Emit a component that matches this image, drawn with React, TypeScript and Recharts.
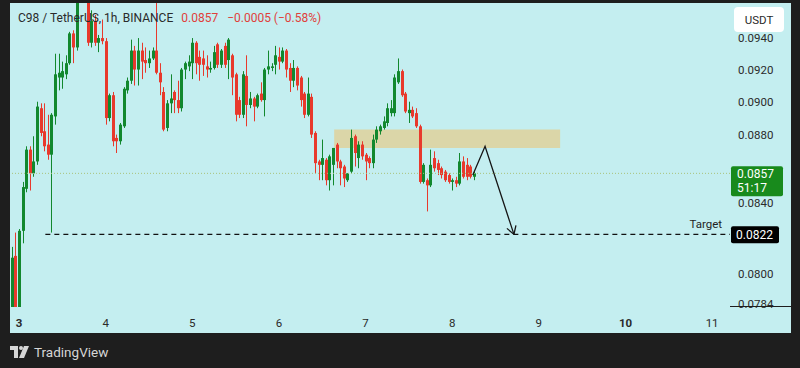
import { Bar, ComposedChart, ReferenceArea, ReferenceLine, Scatter, XAxis, YAxis } from "recharts";

// hour index from day 3 00:00, one candle per hour
const hours = [
  -2, -1, 0, 1, 2, 3, 4, 5, 6, 7, 8, 9, 10, 11, 12, 13, 14, 15, 16, 17, 18, 19, 20, 21, 22, 23,
  24, 25, 26, 27, 28, 29, 30, 31, 32, 33, 34, 35, 36, 37, 38, 39, 40, 41, 42, 43, 44, 45, 46, 47,
  48, 49, 50, 51, 52, 53, 54, 55, 56, 57, 58, 59, 60, 61, 62, 63, 64, 65, 66, 67, 68, 69, 70, 71,
  72, 73, 74, 75, 76, 77, 78, 79, 80, 81, 82, 83, 84, 85, 86, 87, 88, 89, 90, 91, 92, 93, 94, 95,
  96, 97, 98, 99, 100, 101, 102, 103, 104, 105, 106, 107, 108, 109, 110, 111, 112, 113, 114, 115,
  116, 117, 118, 119, 120, 121, 122, 123, 124, 125, 126,
];

const opens = [
  0.0781, 0.081, 0.0782, 0.0824, 0.0848, 0.0871, 0.0857, 0.0864, 0.0896, 0.0882, 0.0874, 0.0868, 0.0891, 0.0915, 0.0915, 0.0917, 0.0924, 0.0943, 0.0934, 0.0968, 0.0975, 0.0971, 0.0937, 0.0951, 0.0937, 0.094,
  0.0938, 0.089, 0.0904, 0.0878, 0.0876, 0.0885, 0.0907, 0.0913, 0.0932, 0.092, 0.0932, 0.0926, 0.0924, 0.0927, 0.0932, 0.0918, 0.0906, 0.0884, 0.0899, 0.0906, 0.0901, 0.0896, 0.092, 0.0922,
  0.0924, 0.0937, 0.0928, 0.0927, 0.0922, 0.092, 0.0921, 0.0936, 0.0923, 0.0935, 0.0926, 0.0929, 0.0917, 0.0901, 0.0892, 0.0916, 0.0898, 0.0902, 0.0897, 0.0905, 0.0901, 0.092, 0.0921, 0.0923,
  0.0928, 0.0925, 0.0932, 0.0921, 0.0913, 0.0921, 0.0915, 0.0905, 0.0892, 0.0903, 0.0881, 0.0864, 0.0862, 0.0865, 0.0853, 0.0862, 0.0874, 0.0864, 0.0861, 0.0853, 0.0858, 0.0879, 0.0866, 0.0874,
  0.0868, 0.0866, 0.0863, 0.0877, 0.0882, 0.0884, 0.0887, 0.0893, 0.0893, 0.0912, 0.0919, 0.0905, 0.0893, 0.0895, 0.0893, 0.0885, 0.0852, 0.0853, 0.085, 0.0866,
  0.0863, 0.086, 0.0858, 0.0856, 0.0852, 0.0853, 0.0851, 0.0864, 0.0862, 0.0861, 0.0855,
];

const highs = [
  0.0815, 0.0823, 0.0825, 0.0852, 0.0873, 0.0873, 0.0879, 0.09, 0.0899, 0.0899, 0.0892, 0.0893, 0.093, 0.093, 0.0925, 0.0929, 0.0944, 0.0945, 0.0972, 0.0982, 0.0986, 0.0976, 0.0958, 0.0955, 0.0942, 0.0952,
  0.094, 0.0905, 0.0906, 0.088, 0.0887, 0.0909, 0.0915, 0.0939, 0.0935, 0.094, 0.0937, 0.0934, 0.0932, 0.0934, 0.0966, 0.0924, 0.0909, 0.0901, 0.0917, 0.0907, 0.0913, 0.0921, 0.0925, 0.0929,
  0.094, 0.0938, 0.0932, 0.0932, 0.0929, 0.0925, 0.0935, 0.0937, 0.0933, 0.0937, 0.094, 0.093, 0.0918, 0.0903, 0.0919, 0.0929, 0.0906, 0.0903, 0.0905, 0.0912, 0.0921, 0.0932, 0.0924, 0.0935,
  0.0934, 0.0934, 0.0933, 0.0924, 0.0926, 0.0922, 0.0916, 0.0906, 0.0915, 0.0905, 0.0882, 0.0865, 0.0877, 0.0866, 0.0868, 0.0872, 0.0875, 0.0865, 0.0862, 0.0857, 0.0883, 0.088, 0.0876, 0.0876,
  0.0869, 0.0867, 0.088, 0.0885, 0.0886, 0.0891, 0.0899, 0.0901, 0.0917, 0.0927, 0.092, 0.0906, 0.09, 0.0897, 0.0896, 0.0886, 0.0863, 0.0854, 0.0871, 0.087,
  0.0865, 0.0861, 0.0859, 0.0857, 0.0854, 0.0855, 0.0869, 0.0867, 0.0866, 0.0862, 0.0858,
];

const lows = [
  0.0778, 0.0778, 0.0779, 0.0817, 0.0846, 0.0847, 0.0855, 0.0862, 0.0879, 0.087, 0.0865, 0.0823, 0.0886, 0.0907, 0.0908, 0.0914, 0.0923, 0.0924, 0.0932, 0.0966, 0.0967, 0.0935, 0.0934, 0.0935, 0.0931, 0.0936,
  0.0886, 0.0888, 0.0873, 0.0869, 0.0874, 0.0884, 0.0905, 0.0911, 0.091, 0.091, 0.0914, 0.0918, 0.0921, 0.0926, 0.0917, 0.0904, 0.0882, 0.0882, 0.0893, 0.0893, 0.0893, 0.0894, 0.0914, 0.0919,
  0.0914, 0.0917, 0.0913, 0.0916, 0.0915, 0.0918, 0.092, 0.0921, 0.0921, 0.0921, 0.0914, 0.0904, 0.0888, 0.089, 0.089, 0.0885, 0.0896, 0.0888, 0.0896, 0.09, 0.0891, 0.0917, 0.0919, 0.0917,
  0.092, 0.0924, 0.0915, 0.0906, 0.0909, 0.0907, 0.0897, 0.089, 0.0891, 0.0878, 0.0857, 0.0853, 0.0853, 0.085, 0.0847, 0.085, 0.086, 0.085, 0.0849, 0.0852, 0.0857, 0.0861, 0.086, 0.0865,
  0.0853, 0.086, 0.086, 0.0875, 0.088, 0.0883, 0.0885, 0.0891, 0.0891, 0.0911, 0.0903, 0.0893, 0.0887, 0.089, 0.0884, 0.0851, 0.0851, 0.0835, 0.0849, 0.0858,
  0.0856, 0.0854, 0.0852, 0.0851, 0.0847, 0.0849, 0.085, 0.0854, 0.0853, 0.0854, 0.0853,
];

const closes = [
  0.0809, 0.0782, 0.0824, 0.0849, 0.0871, 0.0857, 0.0864, 0.0897, 0.0881, 0.0873, 0.0868, 0.0892, 0.0917, 0.0918, 0.0919, 0.0924, 0.0943, 0.0934, 0.0968, 0.0975, 0.0971, 0.0937, 0.0951, 0.0937, 0.094, 0.0938,
  0.089, 0.0904, 0.0876, 0.0876, 0.0886, 0.0908, 0.0913, 0.0932, 0.092, 0.0932, 0.0925, 0.0924, 0.0927, 0.0932, 0.0918, 0.0912, 0.0883, 0.0899, 0.0902, 0.0901, 0.0896, 0.092, 0.0924, 0.0925,
  0.0937, 0.0924, 0.0923, 0.0923, 0.092, 0.0921, 0.0931, 0.0923, 0.0932, 0.0923, 0.0939, 0.0915, 0.0892, 0.0892, 0.0917, 0.0898, 0.0902, 0.0897, 0.0904, 0.0901, 0.092, 0.0922, 0.0922, 0.0929,
  0.0925, 0.0932, 0.092, 0.0913, 0.0921, 0.091, 0.0901, 0.0892, 0.0905, 0.088, 0.0863, 0.0862, 0.0866, 0.0853, 0.0867, 0.0872, 0.0864, 0.086, 0.0854, 0.0857, 0.0878, 0.0869, 0.0874, 0.0867,
  0.0864, 0.0863, 0.0877, 0.0883, 0.0885, 0.0888, 0.0896, 0.0896, 0.0915, 0.0919, 0.0904, 0.0894, 0.0895, 0.0891, 0.0885, 0.0852, 0.0862, 0.085, 0.0862, 0.086,
  0.0859, 0.0856, 0.0853, 0.0852, 0.0853, 0.0851, 0.0864, 0.0855, 0.0855, 0.0855, 0.0857,
];

const dayTicks = [0, 24, 48, 72, 96, 120, 144, 168, 192];
const dayLabels = ["3", "4", "5", "6", "7", "8", "9", "10", "11"];
const boldDays = ["3", "10"];
const priceTicks = [0.0784, 0.08, 0.084, 0.088, 0.09, 0.092, 0.094];

const lastPrice = 0.0857;
const targetPrice = 0.0822;
const zoneLow = 0.0872;
const zoneHigh = 0.0883;
const zoneStart = 87.3;
const zoneEnd = 149.9;
const targetStart = 7.3;

// projected move drawn on the chart
const pathHours = [125.7, 129.1, 137.1];
const pathPrices = [0.0856, 0.0873, 0.0822];

const GREEN = "#12882e";
const RED = "#e8392c";
const BG = "#c4eef0";
const FONT = "Roboto, 'Noto Sans', sans-serif";

const candles = hours.map((t, i) => ({
  t,
  open: opens[i],
  high: highs[i],
  low: lows[i],
  close: closes[i],
  range: [lows[i], highs[i]],
}));

const pathData = pathHours.map((t, i) => ({ t, p: pathPrices[i], head: i === pathHours.length - 1 }));

function Candle(props: any) {
  const { x, y, width, height, payload } = props;
  if (x == null || y == null || !payload) return null;
  const top = Math.min(y, y + height);
  const bottom = Math.max(y, y + height);
  const lh = Math.log(payload.high);
  const span = lh - Math.log(payload.low) || 1;
  const toY = (v: number) => top + ((lh - Math.log(v)) / span) * (bottom - top);
  const up = payload.close >= payload.open;
  const color = up ? GREEN : RED;
  const cx = Math.round(x + width / 2) + 0.5;
  const bTop = toY(Math.max(payload.open, payload.close));
  const bBot = toY(Math.min(payload.open, payload.close));
  return (
    <g>
      <line x1={cx} x2={cx} y1={top} y2={bottom} stroke={color} strokeWidth={1} />
      <rect x={cx - 1.5} y={bTop} width={3} height={Math.max(1, bBot - bTop)} fill={color} />
    </g>
  );
}

function ArrowHead(props: any) {
  const { cx, cy, payload } = props;
  if (!payload || !payload.head) return <g />;
  return (
    <g stroke="#151515" strokeWidth={1.3} fill="none">
      <line x1={cx} y1={cy} x2={cx - 7} y2={cy - 6} />
      <line x1={cx} y1={cy} x2={cx + 2} y2={cy - 9} />
    </g>
  );
}

function DayTick(props: any) {
  const { x, y, payload } = props;
  const idx = dayTicks.indexOf(payload.value);
  const label = dayLabels[idx] ?? "";
  return (
    <text x={x} y={y + 12} textAnchor="middle" fontSize={11.5} fontFamily={FONT}
      fontWeight={boldDays.includes(label) ? 700 : 400} fill="#2a2a2a">
      {label}
    </text>
  );
}

function LastPriceTag(props: any) {
  const { viewBox } = props;
  if (!viewBox) return null;
  const x = viewBox.x + viewBox.width + 1;
  const y = viewBox.y;
  return (
    <g>
      <rect x={x} y={y - 7} width={52} height={30} rx={2} fill="#188a1c" />
      <text x={x + 6} y={y + 5} fontSize={12} fontFamily={FONT} fill="#ffffff">0.0857</text>
      <text x={x + 6} y={y + 19} fontSize={12} fontFamily={FONT} fill="#ffffff">51:17</text>
    </g>
  );
}

function TargetTag(props: any) {
  const { viewBox } = props;
  if (!viewBox) return null;
  const right = viewBox.x + viewBox.width;
  const y = viewBox.y;
  return (
    <g>
      <text x={right - 8} y={y - 6} textAnchor="end" fontSize={11.5} fontFamily={FONT} fill="#1f1f1f">Target</text>
      <rect x={right + 1} y={y - 8} width={48} height={17} rx={2} fill="#000000" />
      <text x={right + 6} y={y + 4.5} fontSize={12} fontFamily={FONT} fill="#ffffff">0.0822</text>
    </g>
  );
}

export default function App() {
  return (
    <div style={{ position: "fixed", left: 0, top: 0, width: 800, height: 368, background: "#1e1e1e", overflow: "hidden" }}>
      <div style={{ position: "absolute", left: 10, top: 3, width: 781, height: 330, background: BG }}>
        <ComposedChart width={781} height={330} data={candles} margin={{ top: 0, right: 0, bottom: 0, left: 0 }}>
          <XAxis
            dataKey="t"
            type="number"
            domain={[-2.493, 196.95]}
            allowDataOverflow
            ticks={dayTicks}
            interval={0}
            tick={<DayTick />}
            axisLine={false}
            tickLine={false}
            height={26}
          />
          <YAxis
            orientation="right"
            scale="log"
            domain={[0.07822, 0.09628]}
            allowDataOverflow
            ticks={priceTicks}
            interval={0}
            width={61}
            axisLine={false}
            tickLine={false}
            tickSize={0}
            tickMargin={8}
            tick={{ fill: "#2b2b2b", fontSize: 11.5, fontFamily: FONT }}
            tickFormatter={(v: number) => v.toFixed(4)}
          />
          <ReferenceArea x1={zoneStart} x2={zoneEnd} y1={zoneLow} y2={zoneHigh} fill="#e2cf94" fillOpacity={0.78} stroke="none" />
          <ReferenceLine y={lastPrice} stroke="#a9c27a" strokeDasharray="1 2" strokeWidth={1} label={<LastPriceTag />} />
          <Bar dataKey="range" barSize={3} shape={<Candle />} isAnimationActive={false} />
          <ReferenceLine
            segment={[{ x: targetStart, y: targetPrice }, { x: 196.95, y: targetPrice }]}
            stroke="#111111"
            strokeDasharray="5 4"
            strokeWidth={1.2}
            label={<TargetTag />}
          />
          <Scatter
            data={pathData}
            dataKey="p"
            line={{ stroke: "#151515", strokeWidth: 1.3 }}
            shape={<ArrowHead />}
            isAnimationActive={false}
          />
        </ComposedChart>
        <div style={{ position: "absolute", left: 8, top: 8, fontFamily: FONT, fontSize: 12, whiteSpace: "nowrap", color: "#2a2a2a" }}>
          C98 / TetherUS, 1h, BINANCE
          <span style={{ color: "#e0403a", marginLeft: 8 }}>0.0857</span>
          <span style={{ color: "#e0403a", marginLeft: 9 }}>−0.0005 (−0.58%)</span>
        </div>
        <div style={{ position: "absolute", left: 724, top: 4, width: 50, height: 25, background: "#ffffff", borderRadius: 4, fontFamily: FONT, fontSize: 11.5, color: "#2a2a2a", display: "flex", alignItems: "center", justifyContent: "center" }}>
          USDT
        </div>
        <div style={{ position: "absolute", left: 720, top: 303, width: 61, height: 1, background: "#1e1e1e" }} />
      </div>
      <div style={{ position: "absolute", left: 10, top: 344, display: "flex", alignItems: "center", fontFamily: FONT, fontSize: 13.5, color: "#d6d6d6" }}>
        <svg width={20} height={12} viewBox="0 0 20 12" style={{ marginRight: 4 }}>
          <path d="M0 0 H8 V12 H4 V4 H0 Z" fill="#d6d6d6" />
          <circle cx={11} cy={2} r={2} fill="#d6d6d6" />
          <path d="M14 0 H19 L14 12 H9 Z" fill="#d6d6d6" />
        </svg>
        TradingView
      </div>
    </div>
  );
}
